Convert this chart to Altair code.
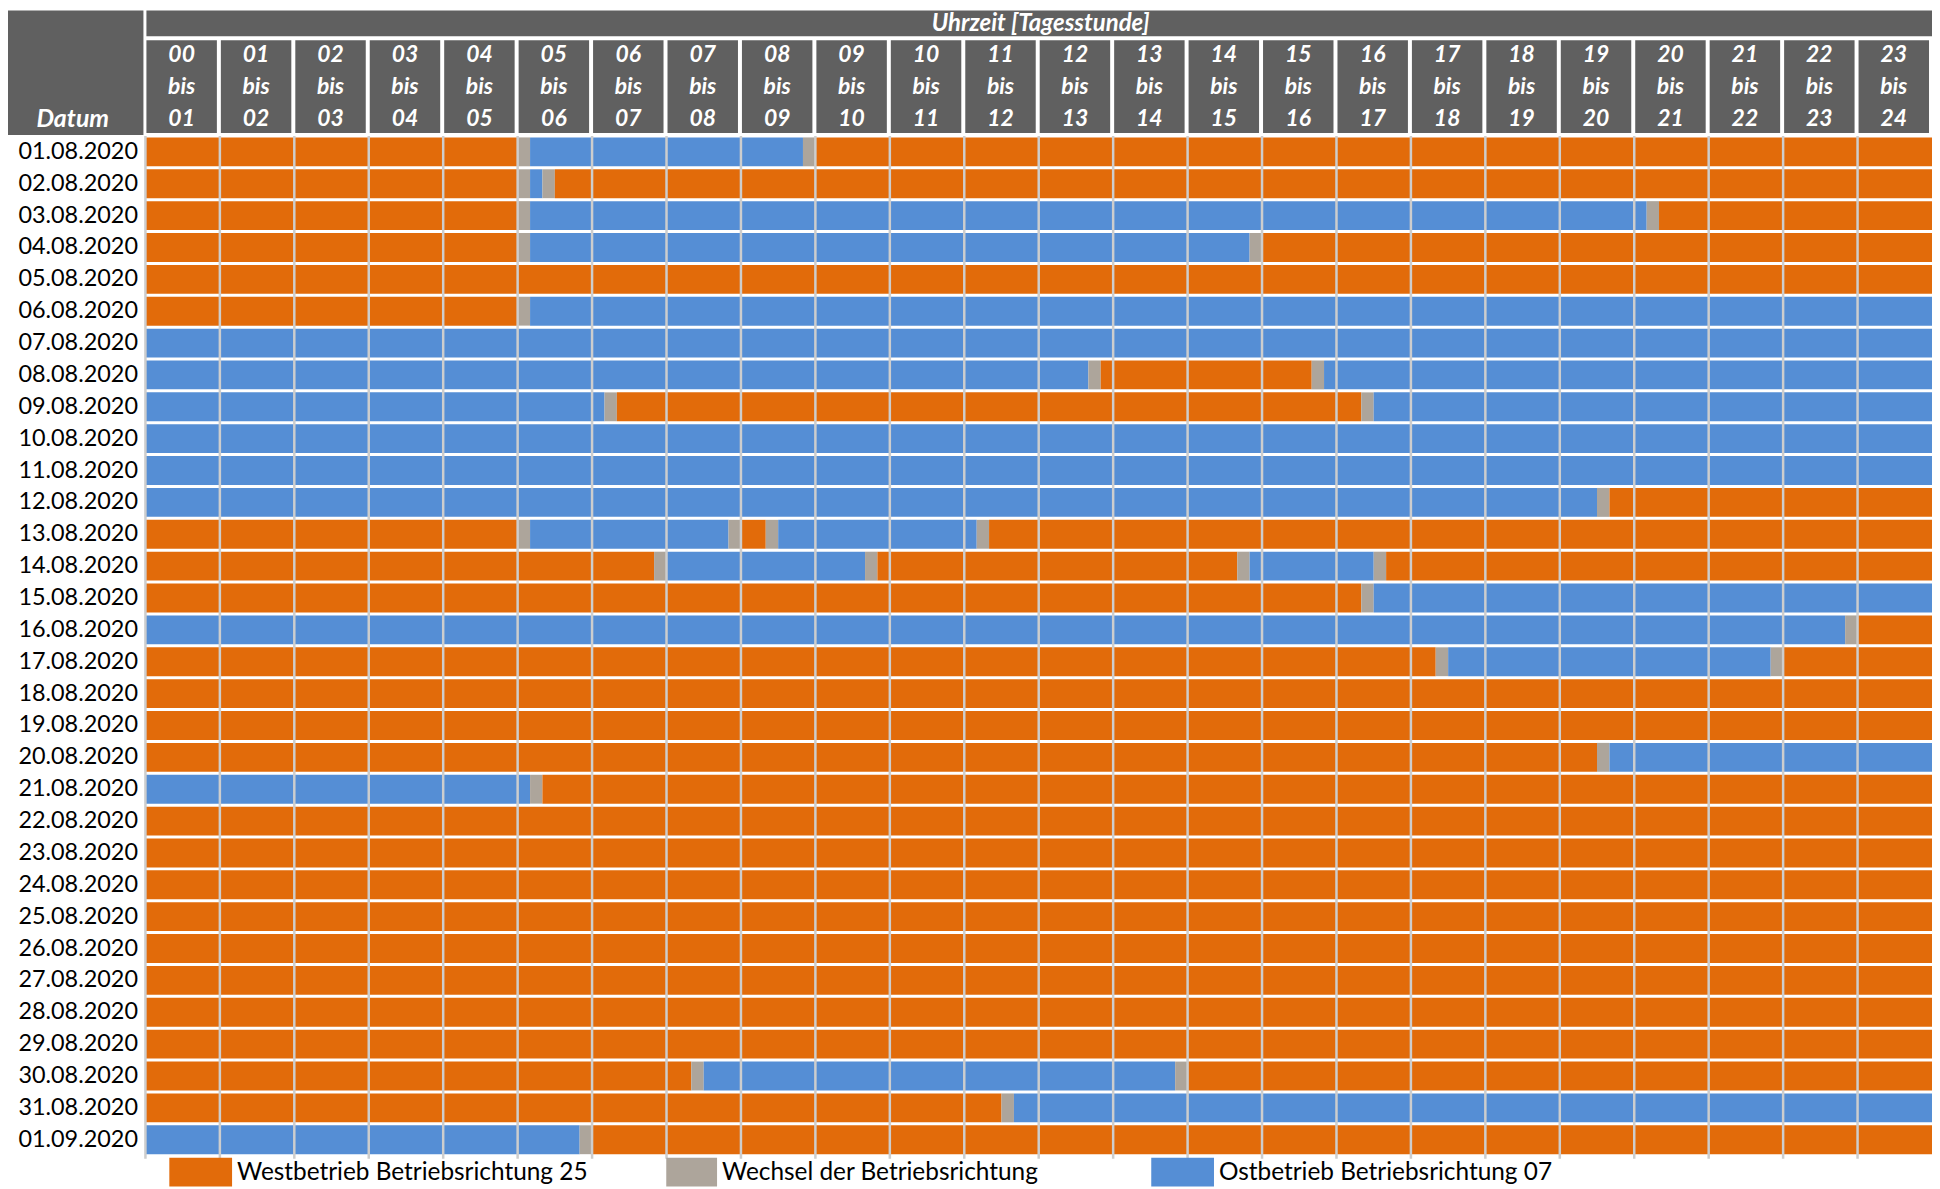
import altair as alt
import pandas as pd

# ---------------- data ----------------
dates = [f"{d:02d}.08.2020" for d in range(1, 32)] + ["01.09.2020"]

state_codes = ["W", "X", "E"]
state_labels = [
    "Westbetrieb Betriebsrichtung 25",
    "Wechsel der Betriebsrichtung",
    "Ostbetrieb Betriebsrichtung 07",
]
state_colors = ["#E26B0A", "#ADA59B", "#558ED5"]

# each day: list of (state, end hour) – segments follow each other from 0 h
day_segments = [
    [("W", 5), ("X", 5.167), ("E", 8.833), ("X", 9), ("W", 24)],            # 01.08
    [("W", 5), ("X", 5.167), ("E", 5.333), ("X", 5.5), ("W", 24)],          # 02.08
    [("W", 5), ("X", 5.167), ("E", 20.167), ("X", 20.333), ("W", 24)],      # 03.08
    [("W", 5), ("X", 5.167), ("E", 14.833), ("X", 15), ("W", 24)],          # 04.08
    [("W", 24)],                                                            # 05.08
    [("W", 5), ("X", 5.167), ("E", 24)],                                    # 06.08
    [("E", 24)],                                                            # 07.08
    [("E", 12.667), ("X", 12.833), ("W", 15.667), ("X", 15.833), ("E", 24)],  # 08.08
    [("E", 6.167), ("X", 6.333), ("W", 16.333), ("X", 16.5), ("E", 24)],    # 09.08
    [("E", 24)],                                                            # 10.08
    [("E", 24)],                                                            # 11.08
    [("E", 19.5), ("X", 19.667), ("W", 24)],                                # 12.08
    [("W", 5), ("X", 5.167), ("E", 7.833), ("X", 8), ("W", 8.333), ("X", 8.5),
     ("E", 11.167), ("X", 11.333), ("W", 24)],                              # 13.08
    [("W", 6.833), ("X", 7), ("E", 9.667), ("X", 9.833), ("W", 14.667),
     ("X", 14.833), ("E", 16.5), ("X", 16.667), ("W", 24)],                 # 14.08
    [("W", 16.333), ("X", 16.5), ("E", 24)],                                # 15.08
    [("E", 22.833), ("X", 23), ("W", 24)],                                  # 16.08
    [("W", 17.333), ("X", 17.5), ("E", 21.833), ("X", 22), ("W", 24)],      # 17.08
    [("W", 24)],                                                            # 18.08
    [("W", 24)],                                                            # 19.08
    [("W", 19.5), ("X", 19.667), ("E", 24)],                                # 20.08
    [("E", 5.167), ("X", 5.333), ("W", 24)],                                # 21.08
    [("W", 24)],                                                            # 22.08
    [("W", 24)],                                                            # 23.08
    [("W", 24)],                                                            # 24.08
    [("W", 24)],                                                            # 25.08
    [("W", 24)],                                                            # 26.08
    [("W", 24)],                                                            # 27.08
    [("W", 24)],                                                            # 28.08
    [("W", 24)],                                                            # 29.08
    [("W", 7.333), ("X", 7.5), ("E", 13.833), ("X", 14), ("W", 24)],        # 30.08
    [("W", 11.5), ("X", 11.667), ("E", 24)],                                # 31.08
    [("E", 5.833), ("X", 6), ("W", 24)],                                    # 01.09
]

hour_from = [f"{h:02d}" for h in range(24)]
hour_to = [f"{h:02d}" for h in range(1, 25)]

# ---------------- tables ----------------
code_to_label = dict(zip(state_codes, state_labels))
rows = []
for d, segs in zip(dates, day_segments):
    start = 0.0
    for code, end in segs:
        rows.append({"date": d, "start": start, "end": end, "state": code_to_label[code]})
        start = end
seg_df = pd.DataFrame(rows)

hour_df = pd.DataFrame({
    "h": list(range(24)),
    "h1": list(range(1, 25)),
    "mid": [h + 0.5 for h in range(24)],
    "label": [f"{a}\nbis\n{b}" for a, b in zip(hour_from, hour_to)],
})
grid_df = pd.DataFrame({"h": list(range(24))})
one = pd.DataFrame({"a": [0]})

# ---------------- layout ----------------
PLOT_W = 1794
PLOT_H = 1024
HEAD = "#606060"
FONT = "Lato"

xscale = alt.Scale(domain=[0, 24], nice=False, zero=False)

bars = alt.Chart(seg_df).mark_rect().encode(
    x=alt.X("start:Q", scale=xscale, axis=None),
    x2="end:Q",
    y=alt.Y("date:N", sort=dates,
            scale=alt.Scale(paddingInner=0.094, paddingOuter=0.047),
            axis=alt.Axis(title=None, labelFont=FONT, labelFontSize=23.5,
                          labelColor="black", ticks=False, domain=False,
                          labelPadding=8, labelBaseline="middle")),
    color=alt.Color("state:N", scale=alt.Scale(domain=state_labels, range=state_colors),
                    legend=None),
)

grid = alt.Chart(grid_df).mark_rule(color="#CDCDCD", strokeWidth=2.5).encode(
    x=alt.X("h:Q", scale=xscale, axis=None),
    y=alt.value(0), y2=alt.value(PLOT_H + 3),
)

datum_box = alt.Chart(one).mark_rect(color=HEAD).encode(
    x=alt.value(-140), x2=alt.value(-2), y=alt.value(-126), y2=alt.value(-1))
band = alt.Chart(one).mark_rect(color=HEAD).encode(
    x=alt.value(1), x2=alt.value(PLOT_W), y=alt.value(-126), y2=alt.value(-100))
col_boxes = alt.Chart(hour_df).mark_rect(color=HEAD, xOffset=1, x2Offset=-3).encode(
    x=alt.X("h:Q", scale=xscale, axis=None), x2="h1:Q",
    y=alt.value(-96), y2=alt.value(-3))

col_text = alt.Chart(hour_df).mark_text(
    font=FONT, fontSize=23, fontWeight="bold", fontStyle="italic", color="white",
    lineBreak="\n", lineHeight=32, baseline="middle", align="center", dx=-1,
).encode(x=alt.X("mid:Q", scale=xscale, axis=None), y=alt.value(-81), text="label:N")

uhrzeit = alt.Chart(one).mark_text(
    font=FONT, fontSize=24, fontWeight="bold", fontStyle="italic", color="white",
    baseline="middle", align="center", text="Uhrzeit [Tagesstunde]",
).encode(x=alt.value(PLOT_W / 2 + 2), y=alt.value(-112))

datum = alt.Chart(one).mark_text(
    font=FONT, fontSize=25, fontWeight="bold", fontStyle="italic", color="white",
    baseline="middle", align="center", text="Datum",
).encode(x=alt.value(-73), y=alt.value(-17))

legend_x = [24, 523, 1010]
legend_w = [63, 51, 63]
legend_layers = []
for lx, lw, lab, col in zip(legend_x, legend_w, state_labels, state_colors):
    legend_layers.append(
        alt.Chart(one).mark_rect(color=col).encode(
            x=alt.value(lx), x2=alt.value(lx + lw),
            y=alt.value(PLOT_H + 2), y2=alt.value(PLOT_H + 31)))
    legend_layers.append(
        alt.Chart(one).mark_text(font=FONT, fontSize=24.5, color="black",
                                 align="left", baseline="middle", text=lab).encode(
            x=alt.value(lx + lw + 5), y=alt.value(PLOT_H + 17)))

chart = alt.layer(
    bars, grid, datum_box, band, col_boxes, col_text, uhrzeit, datum, *legend_layers
).properties(
    width=PLOT_W, height=PLOT_H,
    autosize=alt.AutoSizeParams(type="none"),
    padding={"left": 138, "top": 126, "right": 0, "bottom": 31},
    background="white",
).configure_view(stroke=None)

chart.save("out.html", embed_options={"renderer": "svg", "actions": False})
